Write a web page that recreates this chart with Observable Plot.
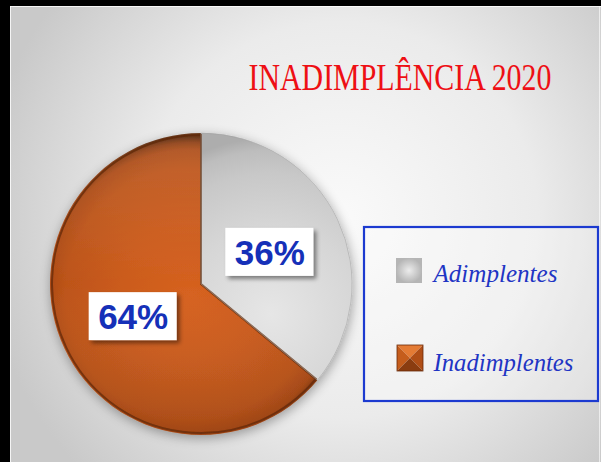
<!DOCTYPE html>
<html><head><meta charset="utf-8">
<script src="https://cdn.jsdelivr.net/npm/d3@7"></script>
<script src="https://cdn.jsdelivr.net/npm/@observablehq/plot@0.6"></script>
<style>html,body{margin:0;padding:0;background:#000;} #chart svg{display:block}</style>
</head><body><div id="chart"></div>
<script>
const title = "INADIMPLÊNCIA 2020";
const categories = ["Adimplentes", "Inadimplentes"];
const values = [36, 64];
const valueLabels = ["36%", "64%"];

const W = 601, H = 462;
const cx = 201, cy = 284, R = 151;

const arcs = d3.pie().sort(null).value(d => d)(values);
const arcGen = d3.arc().innerRadius(0).outerRadius(R);
const slices = categories.map((c, i) => {
  const a = arcs[i];
  const [px, py] = arcGen.centroid(a);
  return {category: c, value: values[i], label: valueLabels[i], arc: a, lx: cx + px, ly: cy + py};
});
const legendRows = categories.map((c, i) => ({category: c, i, ty: [281, 370][i]}));

function defsAndBackground() {
  const g = d3.create("svg:g");
  const defs = g.append("defs");
  const bg = defs.append("radialGradient").attr("id", "bg").attr("gradientUnits", "userSpaceOnUse")
    .attr("cx", 340).attr("cy", 220).attr("r", 360);
  bg.append("stop").attr("offset", 0).attr("stop-color", "#fafafa");
  bg.append("stop").attr("offset", 0.55).attr("stop-color", "#ebebeb");
  bg.append("stop").attr("offset", 1).attr("stop-color", "#c9c9c9");

  const og = defs.append("radialGradient").attr("id", "orangeG").attr("gradientUnits", "userSpaceOnUse")
    .attr("cx", -10).attr("cy", 10).attr("r", R + 6);
  [[0, "#d6621f"], [0.45, "#cb5b1c"], [0.8, "#bd5419"], [0.92, "#ac4a15"], [0.965, "#8c3b0f"], [1, "#5a2506"]]
    .forEach(([o, c]) => og.append("stop").attr("offset", o).attr("stop-color", c));

  const gg = defs.append("radialGradient").attr("id", "grayG").attr("gradientUnits", "userSpaceOnUse")
    .attr("cx", 70).attr("cy", 30).attr("r", R + 25);
  [[0, "#e6e6e6"], [0.5, "#d6d6d6"], [0.8, "#c8c8c8"], [0.93, "#bdbdbd"], [1, "#adadad"]]
    .forEach(([o, c]) => gg.append("stop").attr("offset", o).attr("stop-color", c));

  const ov = defs.append("linearGradient").attr("id", "shade").attr("x1", 0).attr("y1", 0).attr("x2", 0).attr("y2", 1);
  ov.append("stop").attr("offset", 0).attr("stop-color", "#fff").attr("stop-opacity", 0.1);
  ov.append("stop").attr("offset", 0.5).attr("stop-color", "#fff").attr("stop-opacity", 0);
  ov.append("stop").attr("offset", 1).attr("stop-color", "#000").attr("stop-opacity", 0.1);

  const sw = defs.append("radialGradient").attr("id", "swGray");
  sw.append("stop").attr("offset", 0).attr("stop-color", "#ececec");
  sw.append("stop").attr("offset", 1).attr("stop-color", "#b5b5b5");

  const f1 = defs.append("filter").attr("id", "pieShadow").attr("x", "-20%").attr("y", "-20%").attr("width", "140%").attr("height", "140%");
  f1.append("feGaussianBlur").attr("in", "SourceAlpha").attr("stdDeviation", 6).attr("result", "b");
  f1.append("feOffset").attr("in", "b").attr("dx", 1).attr("dy", 3).attr("result", "o");
  f1.append("feComponentTransfer").attr("in", "o").attr("result", "t")
    .append("feFuncA").attr("type", "linear").attr("slope", 0.35);
  const m1 = f1.append("feMerge");
  m1.append("feMergeNode").attr("in", "t");
  m1.append("feMergeNode").attr("in", "SourceGraphic");

  const f2 = defs.append("filter").attr("id", "boxShadow").attr("x", "-20%").attr("y", "-20%").attr("width", "150%").attr("height", "150%");
  f2.append("feDropShadow").attr("dx", 3).attr("dy", 3).attr("stdDeviation", 2)
    .attr("flood-color", "#000").attr("flood-opacity", 0.45);

  g.append("rect").attr("x", 0).attr("y", 0).attr("width", W).attr("height", H).attr("fill", "url(#bg)");
  g.append("rect").attr("x", 0).attr("y", 0).attr("width", W).attr("height", 6).attr("fill", "#000");
  g.append("rect").attr("x", 0).attr("y", 0).attr("width", 10).attr("height", H).attr("fill", "#000");
  g.append("rect").attr("x", 10).attr("y", 6).attr("width", W - 10).attr("height", 1).attr("fill", "#fff").attr("opacity", 0.8);
  g.append("rect").attr("x", 10).attr("y", 6).attr("width", 1).attr("height", H - 6).attr("fill", "#fff").attr("opacity", 0.8);
  g.append("rect").attr("x", W - 2).attr("y", 6).attr("width", 1).attr("height", H - 6).attr("fill", "#fff").attr("opacity", 0.6);
  return g.node();
}

function pieMark(index, scales) {
  const g = d3.create("svg:g")
    .attr("transform", `translate(${scales.x(cx)},${scales.y(cy)})`)
    .attr("filter", "url(#pieShadow)");
  const fills = ["url(#grayG)", "url(#orangeG)"];
  slices.forEach((s, i) => {
    g.append("path").attr("d", arcGen(s.arc)).attr("fill", fills[i]);
  });
  g.append("path").attr("d", arcGen(slices[1].arc)).attr("fill", "url(#shade)");
  const inner = d3.arc().innerRadius(0).outerRadius(R - 2);
  g.append("path").attr("d", inner(slices[1].arc)).attr("fill", "none")
    .attr("stroke", "#5e2604").attr("stroke-width", 2).attr("stroke-opacity", 0.7);
  g.append("path").attr("d", arcGen(slices[0].arc)).attr("fill", "none")
    .attr("stroke", "#a0a0a0").attr("stroke-width", 1).attr("stroke-opacity", 0.5);
  return g.node();
}

function labelBoxes(index, scales) {
  const g = d3.create("svg:g");
  slices.forEach(s => {
    g.append("rect").attr("x", scales.x(s.lx) - 44).attr("y", scales.y(s.ly) - 24)
      .attr("width", 88).attr("height", 48).attr("fill", "#fff").attr("filter", "url(#boxShadow)");
  });
  return g.node();
}

function legendMark(index, scales) {
  const g = d3.create("svg:g");
  g.append("rect").attr("x", 364).attr("y", 227).attr("width", 234).attr("height", 174)
    .attr("fill", "#fff").attr("fill-opacity", 0.3).attr("stroke", "#1c3ad0").attr("stroke-width", 2.2);
  g.append("rect").attr("x", 396).attr("y", 258).attr("width", 26).attr("height", 25).attr("fill", "url(#swGray)");
  const x0 = 397, y0 = 345, s = 26, m = s / 2;
  const tri = (pts, c) => g.append("polygon").attr("points", pts.map(p => p.join(",")).join(" ")).attr("fill", c);
  tri([[x0, y0], [x0 + s, y0], [x0 + m, y0 + m]], "#e47b34");
  tri([[x0, y0], [x0 + m, y0 + m], [x0, y0 + s]], "#c55d1c");
  tri([[x0 + s, y0], [x0 + s, y0 + s], [x0 + m, y0 + m]], "#b04e16");
  tri([[x0, y0 + s], [x0 + m, y0 + m], [x0 + s, y0 + s]], "#8a3c10");
  g.append("rect").attr("x", x0).attr("y", y0).attr("width", s).attr("height", s)
    .attr("fill", "none").attr("stroke", "#6a2a08").attr("stroke-width", 0.8);
  return g.node();
}

const plot = Plot.plot({
  width: W, height: H, margin: 0,
  x: {domain: [0, W], range: [0, W], axis: null},
  y: {domain: [0, H], range: [0, H], axis: null},
  style: {background: "transparent"},
  marks: [
    defsAndBackground,
    pieMark,
    labelBoxes,
    Plot.text(slices, {x: "lx", y: "ly", text: "label", fill: "#1530b8", fontSize: 35,
      fontWeight: "bold", fontFamily: "Liberation Sans, Arial, sans-serif", textAnchor: "middle", lineAnchor: "middle", dy: 1}),
    legendMark,
    Plot.text(legendRows, {x: 433, y: "ty", text: "category", fill: "#1f35c4", fontSize: 25,
      fontStyle: "italic", fontFamily: "Liberation Serif, serif", textAnchor: "start", lineAnchor: "bottom"}),
    Plot.text([title], {x: 248, y: 89, text: d => d, fill: "#ee0f14", fontSize: 38,
      fontFamily: "Liberation Serif, serif", textAnchor: "start", lineAnchor: "bottom"})
  ]
});
document.getElementById("chart").appendChild(plot);

const lengths = {[title]: 303, "Adimplentes": 124, "Inadimplentes": 140};
plot.querySelectorAll("text").forEach(t => {
  const L = lengths[t.textContent];
  if (!L) return;
  const w = t.getComputedTextLength();
  const k = L / w;
  const tx = +t.getAttribute("x") || 0, ty = +t.getAttribute("y") || 0;
  const T = t.getAttribute("transform") || "";
  t.removeAttribute("x"); t.removeAttribute("y");
  t.setAttribute("transform", `${T} translate(${tx},${ty}) scale(${k},1)`);
});
</script>
</body></html>
